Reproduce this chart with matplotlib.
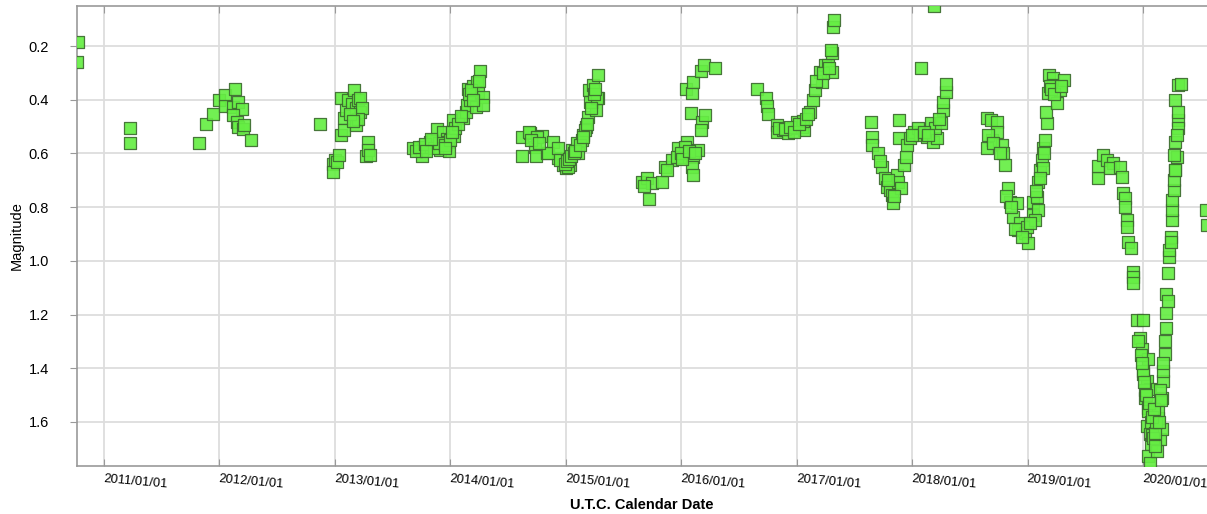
import numpy as np
import matplotlib
matplotlib.use('Agg')
import matplotlib.pyplot as plt

plt.rcParams['font.family'] = ['Liberation Sans', 'DejaVu Sans']

# observations, date as decimal year and visual magnitude
t_2010 = [2010.775, 2010.766, 2011.225, 2011.225]
m_2010 = [0.185, 0.26, 0.506, 0.562]

t_2012 = [2011.823, 2011.883, 2011.944, 2011.996, 2012.048, 2012.134, 2012.048, 2012.117,
          2012.160, 2012.195, 2012.117, 2012.152, 2012.160, 2012.203, 2012.212, 2012.273]
m_2012 = [0.562, 0.491, 0.454, 0.401, 0.383, 0.360, 0.424, 0.428,
          0.410, 0.435, 0.457, 0.484, 0.503, 0.510, 0.495, 0.550]

t_2013 = [2012.870, 2012.983, 2012.983, 2013.000, 2013.017, 2013.035, 2013.052, 2013.052,
          2013.078, 2013.095, 2013.078, 2013.113, 2013.147, 2013.165, 2013.182, 2013.182,
          2013.199, 2013.217, 2013.217, 2013.234, 2013.182, 2013.199, 2013.268, 2013.286,
          2013.286, 2013.303, 2013.130, 2013.160]
m_2013 = [0.490, 0.640, 0.670, 0.625, 0.633, 0.607, 0.394, 0.532,
          0.469, 0.440, 0.513, 0.400, 0.416, 0.364, 0.431, 0.476,
          0.400, 0.446, 0.394, 0.431, 0.495, 0.470, 0.610, 0.558,
          0.588, 0.607, 0.455, 0.480]

t_2014 = [2013.675, 2013.753, 2013.762, 2013.805, 2013.823, 2013.848, 2013.883, 2013.909,
          2013.935, 2013.970, 2013.978, 2013.987, 2014.022, 2014.030, 2014.039, 2014.108,
          2014.134, 2014.143, 2014.152, 2014.169, 2014.195, 2014.221, 2014.229, 2014.238,
          2014.255, 2014.281, 2014.281, 2013.700, 2013.730, 2013.780, 2013.860, 2013.900,
          2013.950, 2014.000, 2014.070, 2014.090, 2014.160, 2014.180, 2014.200, 2014.250,
          2013.790, 2013.830, 2013.955, 2014.010]
m_2014 = [0.581, 0.610, 0.577, 0.577, 0.558, 0.551, 0.510, 0.588,
          0.521, 0.547, 0.558, 0.592, 0.476, 0.536, 0.506, 0.469,
          0.446, 0.420, 0.360, 0.401, 0.349, 0.428, 0.334, 0.372,
          0.293, 0.390, 0.420, 0.590, 0.575, 0.565, 0.580, 0.560,
          0.570, 0.550, 0.490, 0.460, 0.380, 0.365, 0.400, 0.330,
          0.590, 0.545, 0.580, 0.520]

t_2015 = [2014.619, 2014.619, 2014.688, 2014.732, 2014.792, 2014.740, 2014.835, 2014.887,
          2014.931, 2014.974, 2015.000, 2015.035, 2015.052, 2015.095, 2015.104, 2015.147,
          2015.173, 2015.190, 2015.225, 2015.199, 2015.234, 2015.277, 2015.277, 2015.260,
          2014.680, 2014.749, 2014.844, 2014.931, 2015.017, 2015.139, 2015.165, 2015.208,
          2015.268, 2014.700, 2014.770, 2014.950, 2014.990, 2015.010, 2015.025, 2015.045,
          2015.070, 2015.080, 2015.120, 2015.150, 2015.180, 2015.215, 2015.245, 2015.250]
m_2015 = [0.610, 0.540, 0.525, 0.577, 0.536, 0.610, 0.600, 0.558,
          0.618, 0.644, 0.655, 0.644, 0.588, 0.562, 0.600, 0.532,
          0.503, 0.465, 0.409, 0.364, 0.346, 0.308, 0.394, 0.439,
          0.521, 0.540, 0.600, 0.580, 0.651, 0.551, 0.513, 0.409,
          0.394, 0.550, 0.560, 0.625, 0.640, 0.630, 0.620, 0.610,
          0.600, 0.590, 0.570, 0.540, 0.490, 0.430, 0.380, 0.360]

t_2016 = [2015.658, 2015.701, 2015.745, 2015.719, 2015.831, 2015.857, 2015.918, 2015.970,
          2015.987, 2016.048, 2016.056, 2016.100, 2016.091, 2016.100, 2016.143, 2016.082,
          2016.178, 2016.169, 2016.203, 2016.039, 2016.091, 2016.100, 2016.169, 2016.195,
          2016.290, 2016.030, 2015.961, 2015.680, 2015.880, 2016.000, 2016.010, 2016.065,
          2016.120]
m_2016 = [0.707, 0.693, 0.711, 0.771, 0.707, 0.651, 0.625, 0.580,
          0.614, 0.558, 0.596, 0.614, 0.651, 0.681, 0.588, 0.450,
          0.484, 0.513, 0.457, 0.360, 0.375, 0.334, 0.293, 0.271,
          0.282, 0.577, 0.614, 0.720, 0.660, 0.600, 0.620, 0.590,
          0.600]

t_2017 = [2016.654, 2016.732, 2016.740, 2016.749, 2016.827, 2016.827, 2016.879, 2016.922,
          2016.965, 2017.000, 2017.043, 2017.061, 2017.052, 2017.113, 2017.139, 2017.156,
          2017.216, 2017.199, 2017.242, 2017.268, 2017.303, 2017.303, 2017.312, 2017.320,
          2017.294, 2016.850, 2016.900, 2016.940, 2016.980, 2017.020, 2017.080, 2017.100,
          2017.170, 2017.230, 2017.280]
m_2017 = [0.360, 0.394, 0.424, 0.454, 0.495, 0.521, 0.513, 0.525,
          0.506, 0.484, 0.503, 0.513, 0.480, 0.446, 0.401, 0.364,
          0.334, 0.297, 0.271, 0.271, 0.297, 0.226, 0.130, 0.103,
          0.215, 0.505, 0.510, 0.500, 0.520, 0.490, 0.470, 0.455,
          0.330, 0.300, 0.280]

t_2018 = [2017.641, 2017.649, 2017.649, 2017.701, 2017.736, 2017.762, 2017.779, 2017.805,
          2017.823, 2017.831, 2017.866, 2017.874, 2017.900, 2017.883, 2017.883, 2017.926,
          2017.944, 2017.952, 2017.978, 2018.013, 2018.048, 2018.074, 2018.065, 2018.126,
          2018.160, 2018.177, 2018.212, 2018.195, 2018.247, 2018.264, 2018.264, 2018.290,
          2018.290, 2018.186, 2017.720, 2017.790, 2017.840, 2018.000, 2018.100, 2018.140,
          2018.230]
m_2018 = [0.484, 0.540, 0.569, 0.600, 0.651, 0.693, 0.726, 0.737,
          0.756, 0.786, 0.681, 0.707, 0.730, 0.476, 0.543, 0.644,
          0.614, 0.569, 0.543, 0.521, 0.506, 0.282, 0.532, 0.540,
          0.487, 0.558, 0.543, 0.506, 0.487, 0.439, 0.409, 0.372,
          0.342, 0.050, 0.630, 0.700, 0.760, 0.530, 0.520, 0.530,
          0.470]

t_2019 = [2018.645, 2018.680, 2018.732, 2018.688, 2018.732, 2018.775, 2018.784, 2018.801,
          2018.827, 2018.844, 2018.905, 2018.870, 2018.931, 2018.913, 2018.974, 2019.000,
          2018.991, 2019.043, 2019.043, 2019.078, 2019.087, 2019.104, 2019.121, 2019.130,
          2019.147, 2019.165, 2019.156, 2019.173, 2019.182, 2019.216, 2019.216, 2019.251,
          2019.277, 2019.312, 2019.130, 2019.087, 2019.061, 2018.645, 2018.660, 2018.700,
          2018.760, 2018.815, 2018.855, 2018.890, 2018.950, 2019.020, 2019.070, 2019.110,
          2019.140, 2019.190, 2019.200, 2019.230, 2019.290]
m_2019 = [0.469, 0.476, 0.484, 0.551, 0.521, 0.569, 0.600, 0.644,
          0.730, 0.782, 0.786, 0.838, 0.860, 0.887, 0.898, 0.935,
          0.875, 0.782, 0.830, 0.763, 0.707, 0.663, 0.625, 0.580,
          0.551, 0.487, 0.446, 0.375, 0.308, 0.319, 0.346, 0.413,
          0.364, 0.327, 0.655, 0.812, 0.849, 0.580, 0.532, 0.560,
          0.600, 0.760, 0.800, 0.880, 0.910, 0.860, 0.740, 0.690,
          0.600, 0.350, 0.360, 0.380, 0.350]

t_2020 = [2019.606, 2019.606, 2019.649, 2019.684, 2019.736, 2019.710, 2019.797, 2019.814,
          2019.823, 2019.840, 2019.848, 2019.857, 2019.857, 2019.866, 2019.892, 2019.909,
          2019.909, 2019.909, 2019.944, 2019.996, 2019.970, 2019.987, 2020.039, 2019.996,
          2020.030, 2020.056, 2020.013, 2020.039, 2020.030, 2020.056, 2020.065, 2020.039,
          2020.056, 2020.117, 2020.143, 2020.160, 2020.126, 2020.160, 2020.169, 2020.169,
          2020.186, 2020.186, 2020.195, 2020.203, 2020.203, 2020.212, 2020.221, 2020.229,
          2020.238, 2020.247, 2020.255, 2020.255, 2020.264, 2020.264, 2020.273, 2020.290,
          2020.281, 2020.299, 2020.281, 2020.299, 2020.325, 2020.299, 2020.307, 2020.290,
          2020.264, 2020.281, 2020.545, 2020.550,
          2019.955, 2019.980, 2020.000, 2020.020, 2020.045, 2020.070, 2020.080, 2020.090,
          2020.100, 2020.105, 2020.110, 2020.130, 2020.150, 2020.175, 2020.215, 2020.240,
          2019.990, 2020.005, 2020.025, 2020.050, 2020.075, 2020.095, 2020.135, 2020.155]
m_2020 = [0.693, 0.648, 0.607, 0.625, 0.637, 0.655, 0.651, 0.689,
          0.749, 0.767, 0.800, 0.849, 0.875, 0.931, 0.954, 1.043,
          1.062, 1.084, 1.222, 1.222, 1.286, 1.327, 1.364, 1.409,
          1.446, 1.476, 1.510, 1.547, 1.614, 1.644, 1.681, 1.726,
          1.752, 1.707, 1.662, 1.625, 1.584, 1.510, 1.446, 1.409,
          1.346, 1.297, 1.249, 1.196, 1.122, 1.047, 0.987, 0.961,
          0.913, 0.849, 0.812, 0.775, 0.737, 0.700, 0.663, 0.614,
          0.558, 0.476, 0.400, 0.346, 0.342, 0.446, 0.506, 0.532,
          0.607, 0.663, 0.812, 0.868,
          1.300, 1.350, 1.420, 1.480, 1.560, 1.600, 1.650, 1.660,
          1.690, 1.640, 1.600, 1.560, 1.480, 1.380, 1.150, 0.930,
          1.380, 1.450, 1.500, 1.530, 1.580, 1.550, 1.600, 1.520]

year_ticks = list(range(2011, 2021))
tick_labels = [f'{y}/01/01' for y in year_ticks]
mag_ticks = [0.2, 0.4, 0.6, 0.8, 1.0, 1.2, 1.4, 1.6]

t = np.concatenate([t_2010, t_2012, t_2013, t_2014, t_2015, t_2016,
                    t_2017, t_2018, t_2019, t_2020])
m = np.concatenate([m_2010, m_2012, m_2013, m_2014, m_2015, m_2016,
                    m_2017, m_2018, m_2019, m_2020])

fig = plt.figure(figsize=(12.07, 5.14), dpi=100)
ax = fig.add_axes([0.0638, 0.0934, 0.9362, 0.8949])

ax.scatter(t, m, s=64, marker='s', facecolor='#66ee44', edgecolor='#3d6b30',
           linewidth=0.9, alpha=0.92, zorder=3, clip_on=True)

ax.set_xlim(2010.766, 2020.554)
ax.set_ylim(1.764, 0.051)

ax.set_xticks(year_ticks)
ax.set_xticklabels(tick_labels, rotation=-5, ha='left', va='top',
                   rotation_mode='anchor', fontsize=9.3)
ax.set_yticks(mag_ticks)
ax.set_yticklabels([f'{v:.1f}' for v in mag_ticks], fontsize=10.5)

ax.grid(True, color='#dddddd', linewidth=1.3, zorder=0)
ax.set_axisbelow(True)

for side in ['left', 'bottom', 'top']:
    ax.spines[side].set_color('#999999')
    ax.spines[side].set_linewidth(1.2)
ax.spines['right'].set_visible(False)

ax.tick_params(axis='x', direction='in', length=5, color='#999999', top=True,
               pad=5, labelcolor='black')
ax.tick_params(axis='y', direction='out', length=5, color='#999999', pad=15)

ax.set_xlabel('U.T.C. Calendar Date', fontsize=10.5, fontweight='bold', labelpad=5)
ax.set_ylabel('Magnitude', fontsize=10.5, labelpad=4)

fig.savefig('out.png', dpi=100)
